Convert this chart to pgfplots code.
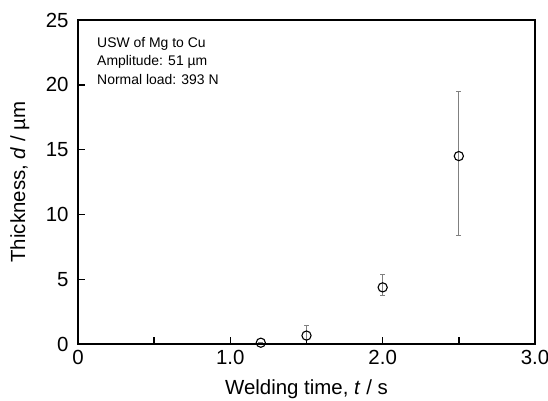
\documentclass[border=0pt]{standalone}
\usepackage{pgfplots}
\pgfplotsset{compat=1.18}
\usepackage{fontspec}
\setmainfont{Liberation Sans}
\begin{document}
\begin{tikzpicture}[x=1bp,y=1bp]
\path[use as bounding box] (-78,-56) rectangle (470,344);
\begin{axis}[
  scale only axis,
  width=457bp, height=324bp,
  xmin=0, xmax=3, ymin=0, ymax=25,
  xtick={0,0.5,1,1.5,2,2.5,3},
  xticklabels={0,,1.0,,2.0,,3.0},
  ytick={0,5,10,15,20,25},
  xtick pos=bottom, ytick pos=left,
  tick align=inside,
  major tick length=7bp,
  tick style={line width=1.4bp, black},
  axis line style={line width=1.6bp},
  /pgf/number format/assume math mode=true,
  ticklabel style={font=\fontsize{20.5}{24}\selectfont},
  yticklabel shift=6bp,
  xticklabel shift=3bp,
  label style={font=\fontsize{20.5}{24}\selectfont},
  xlabel={Welding time, \textit{t} / s},
  ylabel={Thickness, \textit{d} / µm},
  xlabel style={at={(axis description cs:0.5,0)}, anchor=north, yshift=-32bp},
  ylabel style={at={(axis description cs:-0.1274,0.5)}, anchor=center},
  clip=false,
]
\addplot[
  only marks, mark=o,
  mark options={fill=white, draw=black, line width=1.1bp, mark size=4.6bp},
  error bars/.cd, y dir=both, y explicit,
  error bar style={line width=0.8bp, color=gray},
  error mark options={rotate=90, mark size=2.4bp, line width=0.8bp, color=gray},
] coordinates {
  (1.2,0.1) += (0,0) -= (0,0)
  (1.5,0.65) += (0,0.82) -= (0,0.3)
  (2.0,4.37) += (0,1.0) -= (0,0.65)
  (2.5,14.5) += (0,5.0) -= (0,6.15)
};
\node[anchor=north west, inner sep=0, align=left, font=\fontsize{14}{18.5}\selectfont]
  at ([xshift=19bp,yshift=-17bp]rel axis cs:0,1)
  {USW of Mg to Cu\\Amplitude: 51 µm\\Normal load: 393 N};
\end{axis}
\end{tikzpicture}
\end{document}
